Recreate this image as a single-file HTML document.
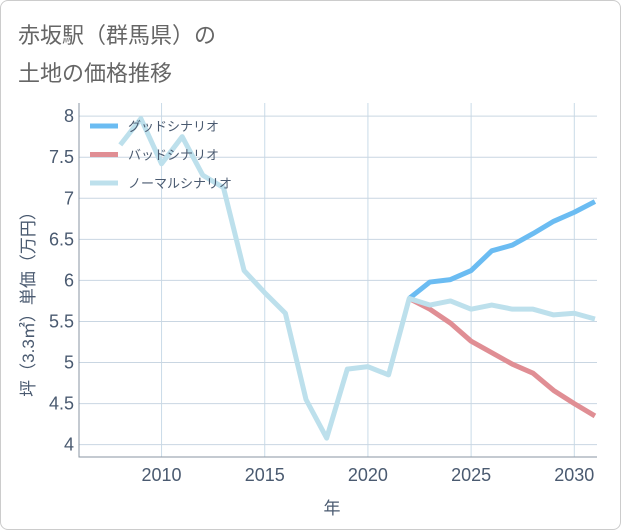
<!DOCTYPE html>
<html><head><meta charset="utf-8"><style>
body{margin:0;background:#fff;}
#card{position:absolute;left:0;top:0;width:619px;height:528px;border:1px solid #ccc;border-radius:8px;background:#fff;}
.t{position:absolute;left:18px;font:22px "Liberation Sans","Noto Sans CJK JP",sans-serif;color:#666;}
svg text{font-family:"Liberation Sans","Noto Sans CJK JP",sans-serif;}
</style></head><body>
<div id="card"></div>
<div class="t" style="top:18px">赤坂駅（群馬県）の</div>
<div class="t" style="top:56px">土地の価格推移</div>
<svg id="chart" width="621" height="530" style="position:absolute;left:0;top:0"></svg>
<script>
const years=[2008,2009,2010,2011,2012,2013,2014,2015,2016,2017,2018,2019,2020,2021,2022,2023,2024,2025,2026,2027,2028,2029,2030,2031];
const normal=[7.65,7.97,7.42,7.75,7.28,7.13,6.12,5.85,5.6,4.55,4.08,4.92,4.95,4.85,5.78,5.7,5.75,5.65,5.7,5.65,5.65,5.58,5.6,5.53];
const fyears=[2022,2023,2024,2025,2026,2027,2028,2029,2030,2031];
const good=[5.78,5.98,6.01,6.12,6.36,6.43,6.57,6.72,6.83,6.96];
const bad=[5.78,5.65,5.48,5.26,5.12,4.98,4.87,4.66,4.5,4.35];
const xTicks=[2010,2015,2020,2025,2030];
const yTicks=[4,4.5,5,5.5,6,6.5,7,7.5,8];
const L=79,R=597,T=103,B=457;
const x=v=>L+(v-2006)*(R-L)/(2031.1-2006);
const y=v=>B-(v-3.85)*(B-T)/(8.16-3.85);
const svg=document.getElementById('chart');
const NS='http://www.w3.org/2000/svg';
function mk(t,a){const e=document.createElementNS(NS,t);for(const k in a)e.setAttribute(k,a[k]);svg.appendChild(e);return e;}
xTicks.forEach(v=>{
 const g=mk('line',{x1:x(v),x2:x(v),y1:T,y2:B,stroke:'#c9dbe8','stroke-width':1});
 
 
 const t=mk('text',{x:x(v),y:B+24,'text-anchor':'middle','font-size':18,fill:'#4a5a70'});t.textContent=v;
 
 
});
yTicks.forEach(v=>{
 const g=mk('line',{x1:L,x2:R,y1:y(v),y2:y(v),stroke:'#c9d6e2','stroke-width':1});
 
 
 const t=mk('text',{x:L-5,y:y(v)+6,'text-anchor':'end','font-size':18,fill:'#4a5a70'});t.textContent=v;
 
 
});
const ax=mk('path',{d:`M${L},${T}V${B}H${R}`,fill:'none',stroke:'#8a96a3','stroke-width':1});


function line(xs,vs,c,name){
 const p=mk('polyline',{points:xs.map((a,i)=>x(a)+','+y(vs[i])).join(' '),fill:'none',stroke:c,'stroke-width':5,'stroke-linejoin':'round'});
 
 
}
line(fyears,good,'#6bbcf2','good-scenario-line');
line(fyears,bad,'#e08e94','bad-scenario-line');
line(years,normal,'#bde0ec','normal-scenario-line');
const leg=[['グッドシナリオ','#6bbcf2'],['バッドシナリオ','#e08e94'],['ノーマルシナリオ','#bde0ec']];
leg.forEach((d,i)=>{
 const yy=126+i*28.5;
 const l=mk('line',{x1:90,x2:118,y1:yy,y2:yy,stroke:d[1],'stroke-width':5});
 
 
 const t=mk('text',{x:128,y:yy+5,'font-size':13,fill:'#4a5a70'});t.textContent=d[0];
 
 
});
const xt=mk('text',{x:332,y:514,'text-anchor':'middle','font-size':17,fill:'#4a5a70'});xt.textContent='年';


const yt=mk('text',{x:0,y:0,'text-anchor':'middle','font-size':17,fill:'#4a5a70',transform:'translate(34,300) rotate(-90)'});yt.textContent='坪（3.3㎡）単価（万円）';


</script>
</body></html>
